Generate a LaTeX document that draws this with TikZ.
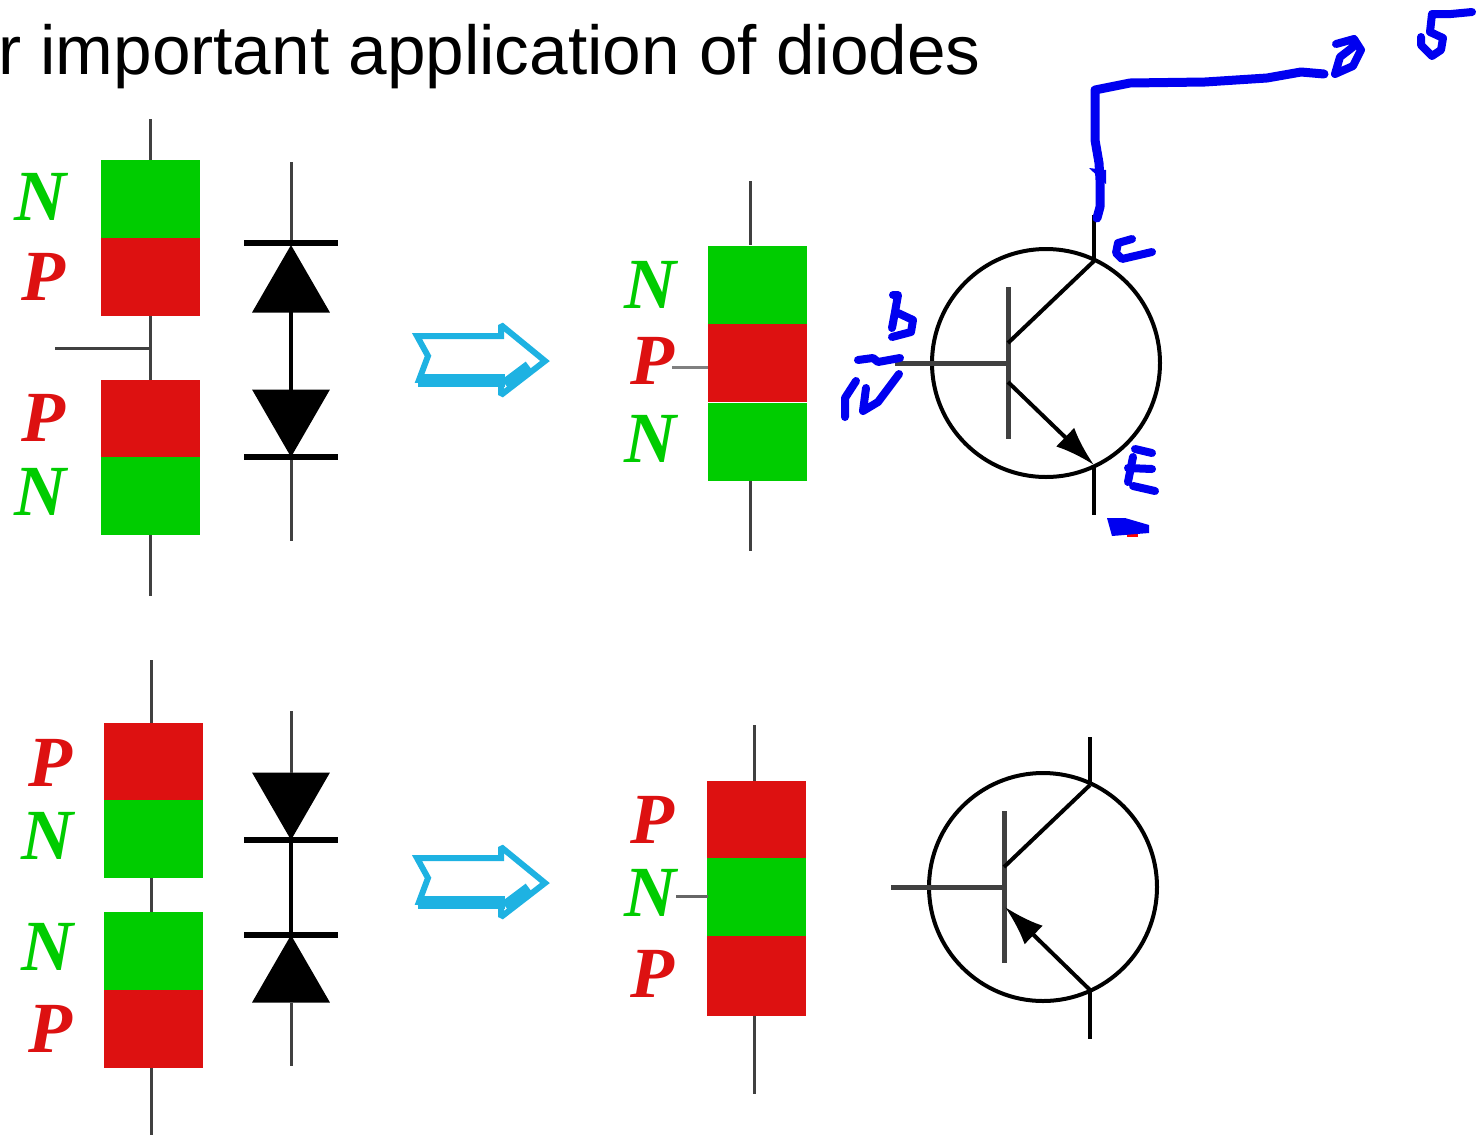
\documentclass[tikz,border=0pt]{standalone}
\usepackage{fontspec}
\setmainfont{Liberation Sans}
\newfontfamily\labelfont{Liberation Serif}
\usetikzlibrary{arrows.meta,shapes.geometric}
\definecolor{pred}{HTML}{DD1111}
\definecolor{ngreen}{HTML}{00CC00}
\definecolor{inkblue}{HTML}{0000F0}
\definecolor{hollow}{HTML}{1EB2E2}

\begin{document}
\begin{tikzpicture}
  [x=1pt,y=-1pt,
   pblock/.style={rectangle,fill=pred,inner sep=0,outer sep=0,minimum width=99pt,minimum height=78pt},
   nblock/.style={rectangle,fill=ngreen,inner sep=0,outer sep=0,minimum width=99pt,minimum height=78pt},
   plabel/.style={text=pred,font=\fontsize{72}{72}\selectfont\labelfont\bfseries\itshape,inner sep=0},
   nlabel/.style={text=ngreen,font=\fontsize{72}{72}\selectfont\labelfont\bfseries\itshape,inner sep=0},
   wire/.style={draw=black!75,line width=3pt},
   lead/.style={draw=black,line width=4pt},
   diodeup/.style={regular polygon,regular polygon sides=3,fill=black,inner sep=0,outer sep=0,minimum size=90pt},
   diodedown/.style={diodeup,shape border rotate=180},
   cathode/.style={rectangle,fill=black,inner sep=0,outer sep=0,minimum width=94pt,minimum height=6pt},
   case/.style={circle,draw=black,line width=4pt,inner sep=0,outer sep=0,minimum size=228pt},
   basebar/.style={rectangle,fill=black!75,inner sep=0,outer sep=0,minimum width=5pt,minimum height=152pt},
   hollowarrow/.style={draw=hollow,line width=6pt,miter limit=2},
   ink/.style={draw=inkblue,line width=8pt,line join=round,line cap=round}]
  \useasboundingbox (0,0) rectangle (1480,1136);
  \node[anchor=base west,inner sep=0,font=\fontsize{69.3}{69.3}\selectfont] (title) at (-2,74) {r important application of diodes};
% top left
  \node[nblock] (n1) at (150.5,199) {};
  \node[pblock] (p1) at (150.5,277) {};
  \node[pblock] (p2) at (150.5,418.5) {};
  \node[nblock] (n2) at (150.5,496) {};
  \node[nlabel] (ln1) at (40,197) {N};
  \node[plabel] (lp1) at (43,277) {P};
  \node[plabel] (lp2) at (43,418) {P};
  \node[nlabel] (ln2) at (40,492) {N};
  \coordinate (t1) at (150,119);
  \coordinate (t2) at (150,596);
  \coordinate (t3) at (55,348);
  \coordinate (t4) at (150,348);
  \draw[wire] (t1) to (150,160);
  \draw[wire] (150,316) to (150,380);
  \draw[wire] (150,535) to (t2);
  \draw[wire] (t3) to (t4);
% top diodes
  \node[cathode] (c1) at (291,243) {};
  \node[diodeup] (d1) at (291,290) {};
  \node[diodedown] (d2) at (291,412) {};
  \node[cathode] (c2) at (291,457) {};
  \coordinate (t5) at (291,162);
  \coordinate (t6) at (291,541);
  \draw[wire] (t5) to (c1.north);
  \draw[lead] (d1.center) to (d2.center);
  \draw[wire] (c2.south) to (t6);
% top arrow
  \draw[hollowarrow] (417,336) -- (501,336) -- (501,325) -- (545,361) -- (501,395) -- (501,381)
    -- (419,380) -- (428,356) -- cycle;
  \draw[hollowarrow,line width=13pt] (418,380) -- (505,380);
  \draw[hollowarrow,line width=11pt] (505,384) -- (529,366);
% npn block
  \node[nblock] (n3) at (757,284.5) {};
  \node[pblock] (p3) at (757,363) {};
  \node[nblock] (n4) at (757,441.5) {};
  \node[nlabel] (ln3) at (650,285) {N};
  \node[plabel] (lp3) at (652,361) {P};
  \node[nlabel] (ln4) at (650,439) {N};
  \coordinate (t7) at (750,181);
  \coordinate (t8) at (750,551);
  \coordinate (t9) at (672,367);
  \coordinate (t10) at (708,367);
  \draw[wire] (t7) to (750,245);
  \draw[wire] (750,481) to (t8);
  \draw[wire,black!50] (t9) to (t10);
% npn symbol
  \node[case] (q1) at (1046,363) {};
  \node[basebar] (b1) at (1008,363) {};
  \coordinate (q1b) at (895,363);
  \coordinate (q1c) at (1094,261);
  \coordinate (q1ct) at (1094,215);
  \coordinate (q1e) at (1094,465);
  \coordinate (q1et) at (1094,515);
  \coordinate (q1cb) at (1008,343);
  \coordinate (q1eb) at (1008,382);
  \draw[lead,black!75,line width=5pt] (q1b) to (b1.center);
  \draw[lead] (q1cb) to (q1c);
  \draw[lead,-{Latex[length=40pt,width=26pt]}] (q1eb) to (q1e);
  \draw[lead,line width=3.5pt] (q1c) to (q1ct);
  \draw[lead,line width=3.5pt] (q1e) to (q1et);
% bottom left
  \node[pblock] (p4) at (153.5,761.5) {};
  \node[nblock] (n5) at (153.5,839) {};
  \node[nblock] (n6) at (153.5,951) {};
  \node[pblock] (p5) at (153.5,1029) {};
  \node[plabel] (lp4) at (50,763) {P};
  \node[nlabel] (ln5) at (47,836) {N};
  \node[nlabel] (ln6) at (47,947) {N};
  \node[plabel] (lp5) at (50,1029) {P};
  \coordinate (t11) at (151,660);
  \coordinate (t12) at (151,1135);
  \draw[wire] (t11) to (151,723);
  \draw[wire] (151,878) to (151,912);
  \draw[wire] (151,1068) to (t12);
% bottom diodes
  \node[diodedown] (d3) at (291,795) {};
  \node[cathode] (c3) at (291,840) {};
  \node[cathode] (c4) at (291,935) {};
  \node[diodeup] (d4) at (291,980) {};
  \coordinate (t13) at (291,711);
  \coordinate (t14) at (291,1066);
  \draw[wire] (t13) to (d3.side 2);
  \draw[lead] (c3.center) to (c4.center);
  \draw[wire] (d4.side 2) to (t14);
% bottom arrow
  \draw[hollowarrow] (417,858) -- (501,858) -- (501,847) -- (545,883) -- (501,917) -- (501,903)
    -- (419,902) -- (428,878) -- cycle;
  \draw[hollowarrow,line width=13pt] (418,902) -- (505,902);
  \draw[hollowarrow,line width=11pt] (505,906) -- (529,888);
% pnp block
  \node[pblock] (p6) at (756.5,819.5) {};
  \node[nblock] (n7) at (756.5,897) {};
  \node[pblock,minimum height=80pt] (p7) at (756.5,976) {};
  \node[plabel] (lp6) at (652,820) {P};
  \node[nlabel] (ln7) at (650,893) {N};
  \node[plabel] (lp7) at (652,974) {P};
  \coordinate (t15) at (754,725);
  \coordinate (t16) at (754,1094);
  \coordinate (t17) at (676,896);
  \coordinate (t18) at (708,896);
  \draw[wire] (t15) to (754,781);
  \draw[wire] (754,1016) to (t16);
  \draw[wire,black!60] (t17) to (t18);
% pnp symbol
  \node[case] (q2) at (1043,887) {};
  \node[basebar] (b2) at (1004,887) {};
  \coordinate (q2b) at (891,887);
  \coordinate (q2c) at (1090,785);
  \coordinate (q2ct) at (1090,737);
  \coordinate (q2e) at (1090,990);
  \coordinate (q2et) at (1090,1039);
  \coordinate (q2cb) at (1004,867);
  \coordinate (q2eb) at (1005,907);
  \draw[lead,black!75,line width=5pt] (q2b) to (b2.center);
  \draw[lead] (q2cb) to (q2c);
  \draw[lead,-{Latex[length=40pt,width=26pt]}] (q2e) to (q2eb);
  \draw[lead,line width=3.5pt] (q2c) to (q2ct);
  \draw[lead,line width=3.5pt] (q2e) to (q2et);
% pen marks
  \draw[ink,line width=9pt] (1097,218) -- (1100,207) -- (1100,180) -- (1099,163) -- (1095,140) -- (1095,90)
    -- (1130,83) -- (1205,82) -- (1267,78) -- (1301,72) -- (1324,74);
  \fill[inkblue] (1089,168) -- (1106,170) -- (1106,184) -- cycle;
  \draw[ink] (1336,44) -- (1354,39) -- (1361,50) -- (1353,66) -- (1335,74) -- (1340,57) -- (1353,47);
  \draw[ink] (1472,12) -- (1451,14) -- (1432,14) -- (1430,32) -- (1443,38) -- (1441,50) -- (1432,56) -- (1421,45) -- (1421,37);
  \draw[ink] (1132,239) -- (1118,243) -- (1116,253) -- (1122,259) -- (1152,252);
  \draw[ink] (893,295) -- (898,295) -- (895,312) -- (892,328);
  \draw[ink] (898,313) -- (913,320) -- (911,332) -- (892,337);
  \draw[ink] (858,360) -- (873,358) -- (878,362) -- (900,358);
  \draw[ink] (856,381) -- (845,398) -- (845,417);
  \draw[ink] (866,388) -- (863,411) -- (878,402) -- (899,374);
  \draw[ink] (1135,449) -- (1152,453);
  \draw[ink] (1133,457) -- (1128,482);
  \draw[ink] (1128,468) -- (1152,469);
  \draw[ink] (1133,486) -- (1155,491);
  \fill[red] (1127,530) rectangle (1138,537);
  \fill[inkblue] (1107,518) -- (1125,518) -- (1149,525) -- (1149,533) -- (1112,536) -- cycle;
\end{tikzpicture}
\end{document}
